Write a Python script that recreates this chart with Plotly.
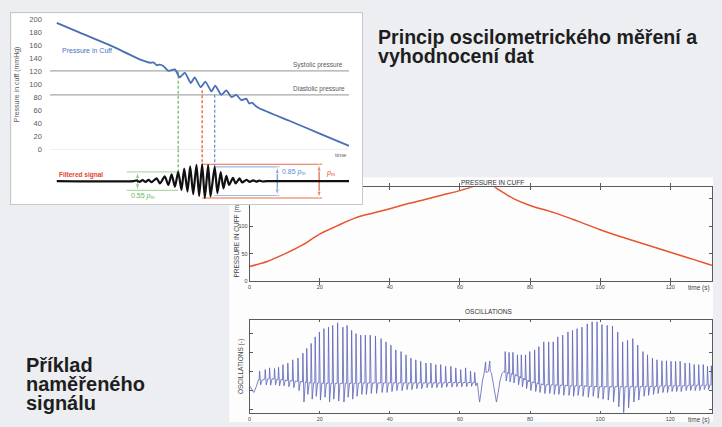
import plotly.graph_objects as go

W, H = 722, 427
FONT = "Liberation Sans, Arial, sans-serif"

# ---------------- sketch: cuff deflation with superimposed oscillations ----------------
CUFF_T = [2.3, 10, 20, 30.7, 33.5, 34.6, 35.8, 36.7, 37.9, 39.6, 41.8, 43.4, 45.1, 47.1, 48.4,
          50.4, 52.0, 54.0, 55.3, 57.3, 59.0, 60.7, 62.3, 64.0, 65.7, 66.6, 67.6, 68.6, 70, 80, 90, 100]
CUFF_P = [195, 180, 160.6, 137.5, 133.5, 134, 129.5, 130.5, 128.5, 120.9, 123.3, 110.8, 118.3, 102.2, 110.8,
          95.7, 104.3, 89.2, 98.2, 84, 90.7, 80.5, 84, 75.6, 78, 70.5, 72, 67.5, 63.3, 43.9, 24.5, 5]
SYSTOLIC = 121
DIASTOLIC = 84
MAP_P = 91
SKETCH_YTICKS = [0, 20, 40, 60, 80, 100, 120, 140, 160, 180, 200]

# filtered oscillation signal, normalised to its maximum amplitude p_m
FILT_T = [2.3, 28.0, 29.0, 30.0, 31.0, 32.0, 33.0, 34.0, 35.7, 36.8, 38.4, 39.6, 40.7, 41.8, 42.9,
          44.0, 44.9, 46.0, 46.9, 47.9, 49.0, 49.9, 50.9, 51.8, 52.9, 53.7, 55.1, 56.0, 57.1, 58.0,
          59.0, 59.9, 61.2, 62.1, 63.4, 64.3, 65.7, 66.8, 68.0, 69.0, 70.0, 71.0, 72.5, 100]
FILT_V = [0, 0, 0.04, -0.04, 0.06, -0.05, 0.08, -0.06, 0.17, -0.14, 0.28, -0.23, 0.4, -0.33, 0.55,
          -0.52, 0.75, -0.62, 0.88, -0.78, 0.97, -0.88, 1.0, -1.0, 0.95, -0.91, 0.85, -0.72, 0.54, -0.43,
          0.31, -0.23, 0.19, -0.14, 0.16, -0.08, 0.08, -0.04, 0.05, -0.03, 0.03, -0.02, 0, 0]
SYS_T, MAP_T, DIA_T = 42.9, 50.9, 55.1
SYS_RATIO, DIA_RATIO = 0.55, 0.85
FILT_RANGE = [-1.34, 1.90]

# ---------------- recorded cuff pressure ----------------
REC_T = [0, 5, 10, 15, 20, 25, 30, 35, 40, 45, 50, 55, 60, 63, 65, 67, 69, 71, 72.5, 75.4,
         80, 86.8, 93.4, 100, 105, 110, 115, 120, 125, 130, 131.9]
REC_P = [27, 36, 50, 66, 86, 101, 115, 124, 132, 141, 149, 157, 165, 171, 175, 177, 175, 167, 161, 150,
         138, 125, 110, 94, 83, 73, 63, 53, 43, 33, 29]
TIME_TICKS = [0, 20, 40, 60, 80, 100, 120]
REC_YTICKS = [0, 50, 100, 150]

# ---------------- recorded oscillations ----------------
LEAD_T = [0, 0.5, 1.2, 1.9, 2.5]
LEAD_V = [-0.75, -0.9, -1.1, -0.8, -0.45]
GAP_T = [65.0, 65.25, 65.6, 66.0, 66.4, 66.9, 67.3, 67.45, 68.1, 68.5, 68.65, 69.0, 69.4, 69.9,
         70.4, 70.9, 71.4, 72.0, 72.5]
GAP_V = [-0.65, -1.1, -1.6, -1.1, -0.5, -0.1, 0.5, -0.05, 0.0, 0.55, 0.0, -0.1, -0.6, -1.2,
         -1.6, -1.1, -0.5, -0.1, 0.0]
BEAT_T = [2.85, 4.45, 5.7, 7.1, 8.25, 9.5, 10.9, 12.3, 13.8, 15.2,
          16.3, 17.55, 18.7, 19.9, 21.2, 22.5, 23.7, 25.1, 26.6, 27.8,
          29.1, 30.35, 31.7, 33.0, 34.4, 35.9, 37.5, 38.9, 40.3, 41.7,
          43.2, 44.6, 46.0, 47.4, 48.8, 50.3, 51.7, 53.1, 54.5, 55.9,
          57.4, 58.8, 60.2, 61.6, 63.0, 64.2,
          72.9, 74.0, 75.1, 76.4, 77.5, 78.7, 79.9, 81.3, 82.5, 83.9,
          85.3, 86.6, 87.9, 89.3, 90.8, 92.1, 93.4, 94.8, 96.3, 97.7,
          99.1, 100.5, 102.0, 103.5, 105.0, 106.4, 107.8, 109.3, 110.7, 112.2,
          113.5, 114.9, 116.2, 117.6, 118.9, 120.2, 121.5, 122.8, 124.2, 125.5,
          126.8, 128.1, 129.4, 130.6, 131.7]
BEAT_PEAK = [0.02, 0.10, 0.19, 0.15, 0.22, 0.36, 0.44, 0.61, 0.70, 0.96,
             1.21, 1.47, 1.81, 2.07, 2.24, 2.32, 2.41, 2.55, 2.32, 2.41,
             2.15, 1.98, 1.90, 1.90, 1.90, 1.86, 1.72, 1.55, 1.38, 1.13,
             1.04, 0.87, 0.70, 0.61, 0.53, 0.44, 0.44, 0.36, 0.36, 0.27,
             0.27, 0.19, 0.10, 0.19, 0.02, -0.05,
             1.04, 1.00, 1.00, 0.87, 0.87, 0.87, 1.04, 1.13, 1.30, 1.55,
             1.55, 1.55, 1.81, 1.90, 2.07, 2.15, 2.24, 2.32, 2.49, 2.60,
             2.60, 2.45, 2.41, 2.38, 2.07, 1.55, 1.63, 1.72, 1.38, 1.04,
             0.87, 0.70, 0.61, 0.56, 0.56, 0.53, 0.53, 0.53, 0.44, 0.44,
             0.36, 0.36, 0.36, 0.27, 0.30]
BEAT_TROUGH = [-0.70, -0.70, -0.72, -0.70, -0.75, -0.75, -0.80, -0.85, -1.00, -1.60,
               -1.20, -1.45, -1.30, -1.50, -1.35, -1.60, -1.45, -1.55, -1.60, -1.35,
               -1.45, -1.30, -1.20, -1.20, -1.15, -1.15, -1.10, -1.10, -1.05, -1.00,
               -1.00, -0.95, -0.95, -0.90, -0.90, -0.85, -0.85, -0.85, -0.85, -0.82,
               -0.82, -0.80, -0.80, -0.80, -0.78, -0.75,
               -0.50, -0.55, -0.60, -0.70, -0.80, -0.90, -1.00, -1.05, -1.10, -1.15,
               -1.15, -1.20, -1.20, -1.25, -1.25, -1.30, -1.25, -1.30, -1.35, -1.30,
               -1.40, -1.45, -1.50, -1.60, -1.85, -2.15, -1.90, -1.60, -1.50, -1.30,
               -1.25, -1.20, -1.15, -1.10, -1.10, -1.05, -1.05, -1.05, -1.00, -1.00,
               -1.00, -1.00, -0.95, -0.95, -0.95]
BEAT_BASE = [-0.45, -0.40, -0.38, -0.40, -0.42, -0.45, -0.48, -0.50, -0.52, -0.55,
             -0.58, -0.60, -0.60, -0.60, -0.62, -0.62, -0.62, -0.62, -0.62, -0.62,
             -0.62, -0.62, -0.60, -0.60, -0.60, -0.60, -0.60, -0.60, -0.60, -0.60,
             -0.60, -0.60, -0.60, -0.60, -0.60, -0.60, -0.60, -0.60, -0.60, -0.58,
             -0.58, -0.58, -0.58, -0.58, -0.58, -0.60,
             -0.05, -0.10, -0.15, -0.25, -0.35, -0.45, -0.55, -0.60, -0.65, -0.70,
             -0.70, -0.70, -0.72, -0.72, -0.75, -0.75, -0.75, -0.75, -0.78, -0.78,
             -0.80, -0.80, -0.80, -0.80, -0.80, -0.80, -0.80, -0.80, -0.80, -0.78,
             -0.78, -0.78, -0.78, -0.75, -0.75, -0.75, -0.75, -0.75, -0.75, -0.72,
             -0.72, -0.72, -0.72, -0.70, -0.70]
OSC_YTICKS = [-2, -1, 0, 1, 2]


def dom_x(left, right):
    return [left / W, right / W]


def dom_y(top, bottom):
    return [1 - bottom / H, 1 - top / H]


# each heartbeat: fast upstroke to the peak, sharp fall to the trough, recovery to baseline
osc_pts = list(zip(LEAD_T, LEAD_V)) + list(zip(GAP_T, GAP_V))
for t, p, q, b in zip(BEAT_T, BEAT_PEAK, BEAT_TROUGH, BEAT_BASE):
    osc_pts += [(t - 0.12, b), (t, p), (t + 0.3, q), (t + 0.7, b)]
osc_pts.sort()
osc_t = [p[0] for p in osc_pts]
osc_v = [p[1] for p in osc_pts]

PM = max(FILT_V)
RED, BLUE, GREEN = "#e8502c", "#5b8bd0", "#63b85a"

fig = go.Figure()

# recorded pressure (bottom-right, upper)
fig.add_trace(go.Scatter(x=REC_T, y=REC_P, mode="lines", line=dict(color="#e8542c", width=1.5, shape="spline"),
                         xaxis="x", yaxis="y"))
# carrier for the rotated pressure-axis label
fig.add_trace(go.Scatter(x=[], y=[], xaxis="x", yaxis="y6"))
# recorded oscillations (bottom-right, lower)
fig.add_trace(go.Scatter(x=osc_t, y=osc_v, mode="lines", line=dict(color="#5c62b8", width=0.8),
                         xaxis="x2", yaxis="y2"))
# sketch panel frame
fig.add_trace(go.Scatter(x=[], y=[], xaxis="x3", yaxis="y3"))
# systolic / diastolic reference levels
for lvl in (SYSTOLIC, DIASTOLIC):
    fig.add_trace(go.Scatter(x=[0, 100], y=[lvl, lvl], mode="lines", line=dict(color="#a8a8a8", width=1.3),
                             xaxis="x4", yaxis="y4"))
# dashed markers on the pressure sketch
for t, top, col in ((SYS_T, SYSTOLIC, GREEN), (MAP_T, MAP_P, RED), (DIA_T, DIASTOLIC, BLUE)):
    fig.add_trace(go.Scatter(x=[t, t], y=[top, 0], mode="lines", line=dict(color=col, width=1.2, dash="3px,2px"),
                             xaxis="x4", yaxis="y4"))
fig.add_trace(go.Scatter(x=CUFF_T, y=CUFF_P, mode="lines",
                         line=dict(color="#4a6fb5", width=1.8, shape="spline", smoothing=0.5),
                         xaxis="x4", yaxis="y4"))
# dashed markers continued into the filtered-signal strip
for t, lvl, col in ((SYS_T, SYS_RATIO * PM, GREEN), (MAP_T, PM, RED), (DIA_T, DIA_RATIO * PM, BLUE)):
    fig.add_trace(go.Scatter(x=[t, t], y=[FILT_RANGE[1], lvl], mode="lines",
                             line=dict(color=col, width=1.2, dash="3px,2px"), xaxis="x5", yaxis="y5"))
# amplitude reference lines
for x0, x1, lvl, col in ((MAP_T, 91, PM, "#ee6a4c"), (DIA_T, 76.7, DIA_RATIO * PM, "#9dbde6"),
                         (25.7, SYS_T, SYS_RATIO * PM, "#aedca2")):
    for s in (1, -1):
        fig.add_trace(go.Scatter(x=[x0, x1], y=[s * lvl, s * lvl], mode="lines", line=dict(color=col, width=1.1),
                                 xaxis="x5", yaxis="y5"))
# double-headed amplitude arrows (one half per direction, head at the far end)
for t, lvl, col in ((90, PM, RED), (76, DIA_RATIO * PM, BLUE), (29.3, SYS_RATIO * PM, GREEN)):
    for s in (1, -1):
        fig.add_trace(go.Scatter(x=[t, t], y=[0, s * lvl], mode="lines+markers",
                                 line=dict(color=col, width=1.1),
                                 marker=dict(symbol="arrow", size=[0, 7], angleref="previous", color=col),
                                 xaxis="x5", yaxis="y5"))
fig.add_trace(go.Scatter(x=FILT_T, y=FILT_V, mode="lines",
                         line=dict(color="#111111", width=2.2, shape="spline", smoothing=0.6),
                         xaxis="x5", yaxis="y5"))

tick_font = dict(family=FONT, size=5.5, color="#444444")
frame = dict(showline=True, linecolor="#5a5a5a", linewidth=0.8, mirror="allticks", ticks="inside",
             ticklen=3, tickcolor="#5a5a5a", showgrid=False, zeroline=False, tickfont=tick_font)
hidden = dict(visible=False, showgrid=False, zeroline=False)

fig.update_layout(
    width=W, height=H, margin=dict(l=0, r=0, t=0, b=0),
    paper_bgcolor="#eceef1", plot_bgcolor="#ffffff", showlegend=False,
    font=dict(family=FONT),
    xaxis=dict(domain=dom_x(248.3, 712), range=[0, 131.9], tickvals=TIME_TICKS, anchor="y", **frame),
    yaxis=dict(domain=dom_y(187.3, 283.3), range=[0, 171], tickvals=REC_YTICKS, anchor="x", **frame),
    yaxis6=dict(overlaying="y", anchor="free", position=239 / W, side="left", range=[0, 171],
                tickvals=[85.5], ticktext=["PRESSURE IN CUFF (mmHg)"], tickangle=-90, ticks="",
                showline=False, showgrid=False, zeroline=False,
                tickfont=dict(family=FONT, size=6.5, color="#444444")),
    xaxis2=dict(domain=dom_x(248.3, 712), range=[0, 131.9], tickvals=TIME_TICKS, anchor="y2", **frame),
    yaxis2=dict(domain=dom_y(322.3, 418.3), range=[-2.2, 2.72], tickvals=OSC_YTICKS, anchor="x2",
                showticklabels=False,
                title=dict(text="OSCILLATIONS (-)", standoff=4, font=dict(family=FONT, size=6.5, color="#444444")),
                **{k: v for k, v in frame.items() if k != "tickfont"}),
    xaxis3=dict(domain=dom_x(9.5, 361), range=[0, 1], anchor="y3", showticklabels=False, ticks="",
                showgrid=False, zeroline=False, showline=True, mirror=True, linecolor="#c8c8c8", linewidth=1),
    yaxis3=dict(domain=dom_y(9.5, 204.5), range=[0, 1], anchor="x3", showticklabels=False, ticks="",
                showgrid=False, zeroline=False, showline=True, mirror=True, linecolor="#c8c8c8", linewidth=1),
    xaxis4=dict(domain=dom_x(48, 348), range=[0, 100], anchor="y4", showticklabels=False, ticks="",
                showgrid=False, zeroline=False, showline=True, linecolor="#a8a8a8", linewidth=1.3),
    yaxis4=dict(domain=dom_y(16, 148.3), range=[0, 200], anchor="x4", tickvals=SKETCH_YTICKS, ticks="",
                ticklabelstandoff=7, showline=False, showgrid=False, zeroline=False,
                tickfont=dict(family=FONT, size=7.5, color="#595959"),
                title=dict(text="Pressure in cuff (mmHg)", standoff=8,
                           font=dict(family=FONT, size=7, color="#595959"))),
    xaxis5=dict(domain=dom_x(48, 348), range=[0, 100], anchor="y5", **hidden),
    yaxis5=dict(domain=dom_y(148.3, 204), range=FILT_RANGE, anchor="x5", **hidden),
)

# white backdrop behind the recorded-signal charts
fig.add_shape(type="rect", xref="paper", yref="paper", x0=228 / W, x1=713 / W, y0=0, y1=1 - 177 / H,
              fillcolor="#fdfdfd", line=dict(width=0), layer="below")

ann = []


def text(x, y, s, size, color="#222222", bold=False, xanchor="left", yanchor="middle", xref="paper", yref="paper"):
    ann.append(dict(x=x, y=y, xref=xref, yref=yref, text=f"<b>{s}</b>" if bold else s, showarrow=False,
                    xanchor=xanchor, yanchor=yanchor, font=dict(family=FONT, size=size, color=color)))


# slide headings
text(375.5 / W, 1 - 34.0 / H, "Princip oscilometrického měření a", 19.6, "#1e1e1e", bold=True)
text(375.5 / W, 1 - 52.9 / H, "vyhodnocení dat", 19.6, "#1e1e1e", bold=True)
for line, yc in (("Příklad", 369.0), ("naměřeného", 388.3), ("signálu", 407.8)):
    text(22 / W, 1 - yc / H, line, 20, "#1e1e1e", bold=True)

# sketch labels
text(3.3, 153, "Pressure in Cuff", 7, "#4472c4", xref="x4", yref="y4")
text(80.7, SYSTOLIC, "Systolic pressure", 6.5, "#595959", xref="x4", yref="y4", yanchor="bottom")
text(80.7, DIASTOLIC, "Diastolic pressure", 6.5, "#595959", xref="x4", yref="y4", yanchor="bottom")
text(100, 1 - 154 / H, "time", 6, "#595959", xanchor="right", xref="x4")
text(2.3, 0.38, "Filtered signal", 6.5, "#e2422b", bold=True, xref="x5", yref="y5")
text(77.0, 0.52, "0.85 <i>p</i><sub>m</sub>", 7, BLUE, xref="x5", yref="y5")
text(91.5, 0.5, "<i>p</i><sub>m</sub>", 7, RED, xref="x5", yref="y5")
text(26.3, -0.88, "0.55 <i>p</i><sub>m</sub>", 7, GREEN, xref="x5", yref="y5")

# recorded-signal chart titles
text(492 / W, 1 - 182 / H, "PRESSURE IN CUFF", 6.5, "#333333", xanchor="center")
text(488 / W, 1 - 314 / H, "OSCILLATIONS", 6.5, "#333333", xanchor="center")
text(686 / W, 1 - 290.5 / H, "time (s)", 6.5, "#444444")
text(686 / W, 1 - 425 / H, "time (s)", 6.5, "#444444")

fig.update_layout(annotations=ann)
fig.write_html("out.html")
